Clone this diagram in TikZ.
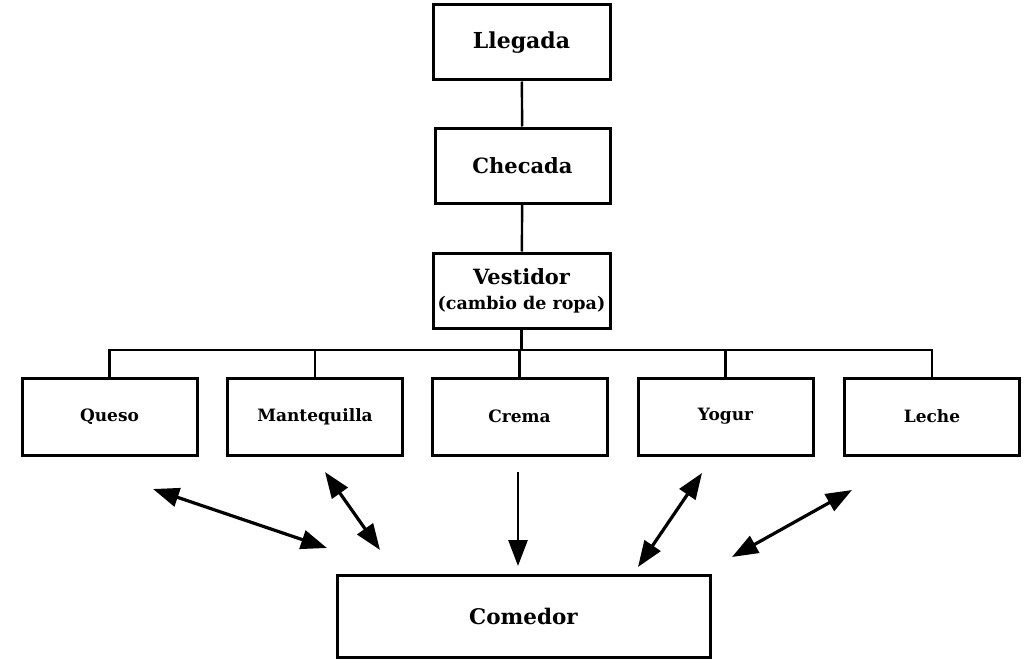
\documentclass[tikz,border=0pt]{standalone}
\usepackage{fontspec}
\setmainfont{DejaVu Serif}
\usetikzlibrary{arrows.meta}
\tikzset{
  box/.style={draw, line width=3pt, inner sep=0pt, font=\bfseries, align=center},
  link/.style={line width=2.4pt},
  tip/.tip={Triangle[length=26pt,width=19pt]},
  both/.style={line width=3.2pt, tip-tip},
  one/.style={line width=2.8pt, -tip},
}
\begin{document}
\begin{tikzpicture}[x=1pt,y=-1pt]
  \useasboundingbox (0,0) rectangle (1031,669);
  % upper chain
  \node[box, minimum width=177pt, minimum height=75pt, font=\fontsize{22}{26}\selectfont\bfseries] (lleg) at (521.5,42.5) {Llegada};
  \node[box, minimum width=175pt, minimum height=75pt, font=\fontsize{21}{25}\selectfont\bfseries] (chec) at (522.5,165.5) {Checada};
  \node[box, minimum width=177pt, minimum height=75pt, font=\fontsize{21}{24}\selectfont\bfseries] (vest) at (521.5,290.5)
    {Vestidor\\[1pt]{\fontsize{17.5}{20}\selectfont (cambio de ropa)}};
  % products
  \tikzset{prod/.style={box, minimum width=175pt, minimum height=77pt, font=\fontsize{17}{20}\selectfont\bfseries}}
  \node[prod] (queso) at (109.5,416.5) {Queso};
  \node[prod] (mant)  at (315,416.5)   {Mantequilla};
  \node[prod] (crema) at (519.5,416.5) {Crema};
  \node[prod] (yogur) at (725.5,416.5) {Yogur};
  \node[prod] (leche) at (932,416.5)   {Leche};
  % dining room
  \node[box, minimum width=373pt, minimum height=82pt, font=\fontsize{21.5}{25}\selectfont\bfseries] (come) at (523.5,616) {Comedor};
  % tree connectors
  \coordinate (bus) at (0,350);
  \draw[link] (lleg) -- (chec);
  \draw[link] (chec) -- (vest);
  \draw[link] (vest.south) -- (vest.south |- bus);
  \draw[link] (queso.north) -- (queso.north |- bus) -- (leche.north |- bus) -- (leche.north);
  \draw[link] (mant.north) -- (mant.north |- bus);
  \draw[link] (crema.north) -- (crema.north |- bus);
  \draw[link] (yogur.north) -- (yogur.north |- bus);
  % arrow ends
  \coordinate (q1) at (153,489);  \coordinate (q2) at (327,548);
  \coordinate (m1) at (325,472);  \coordinate (m2) at (380,550);
  \coordinate (c1) at (518,472);  \coordinate (c2) at (518,566);
  \coordinate (y1) at (702,473);  \coordinate (y2) at (638,567);
  \coordinate (l1) at (852,490);  \coordinate (l2) at (732,557);
  \draw[both] (q1) -- (q2);
  \draw[both] (m1) -- (m2);
  \draw[one]  (c1) -- (c2);
  \draw[both] (y1) -- (y2);
  \draw[both] (l1) -- (l2);
\end{tikzpicture}
\end{document}
